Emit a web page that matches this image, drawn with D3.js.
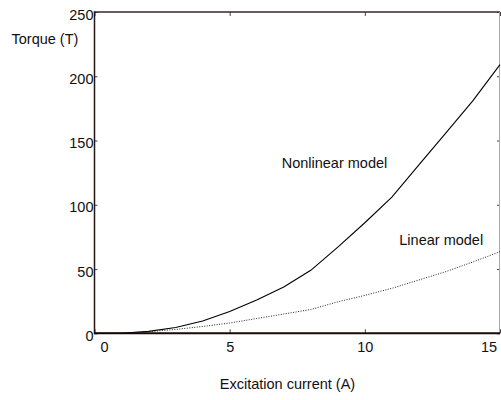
<!DOCTYPE html>
<html><head><meta charset="utf-8">
<script src="https://cdn.jsdelivr.net/npm/d3@7"></script>
<style>
html,body{margin:0;padding:0;background:#fff;}
svg{display:block;font-family:"Liberation Sans",Arial,sans-serif;}
</style></head>
<body><svg id="c" width="501" height="400"></svg>
<script>
const current = [0,1,2,3,4,5,6,7,8,9,10,11,12,13,14,15];
const nonlinearTorque = [0,0,1.5,4.5,9.5,17,26,36,49,67,86,106,131,156,181,209];
const linearTorque = [0,0.2,1.2,3,5.3,8,11.5,15,18.5,24.5,29.5,35,41.5,48,55.5,63.5];
const xTicks = [0,5,10,15];
const yTicks = [0,50,100,150,200,250];
const xTitle = "Excitation current (A)";
const yTitle = "Torque (T)";
const nonlinearLabel = "Nonlinear model";
const linearLabel = "Linear model";

const svg = d3.select("#c");
const L = 94.5, T = 12, R = 500, B = 333.3;
const x = d3.scaleLinear().domain([0,15]).range([L,R]);
const y = d3.scaleLinear().domain([0,250]).range([B,T]);
const fs = "14.5px";

// axes
const gx = svg.append("g").attr("transform",`translate(0,${B})`)
  .call(d3.axisBottom(x).tickValues(xTicks).tickSizeInner(-4).tickSizeOuter(0).tickPadding(8.5));
const gxt = svg.append("g").attr("transform",`translate(0,${T})`)
  .call(d3.axisTop(x).tickValues(xTicks).tickSizeInner(-4).tickSizeOuter(0).tickFormat(""));
const gy = svg.append("g").attr("transform",`translate(${L},0)`)
  .call(d3.axisLeft(y).tickValues(yTicks).tickSizeInner(-3).tickSizeOuter(0).tickPadding(1));
const gyr = svg.append("g").attr("transform",`translate(${R},0)`)
  .call(d3.axisRight(y).tickValues(yTicks).tickSizeInner(-3).tickSizeOuter(0).tickFormat(""));

[gx,gxt,gy,gyr].forEach(g=>{
  g.select(".domain").remove();
  g.selectAll(".tick line").attr("stroke","#444");
  g.selectAll("text").attr("fill","#111").style("font-size",fs).style("font-family","Liberation Sans, Arial, sans-serif");
});
gy.selectAll(".tick text").attr("y",2.5);
gx.selectAll(".tick text").attr("dx",(d)=> d===0 ? 9.5 : (d===15 ? -11.5 : 0));

// frame
svg.append("line").attr("x1",L).attr("x2",R).attr("y1",T).attr("y2",T).attr("stroke","#3a2424").attr("stroke-width",1.5);
svg.append("line").attr("x1",L).attr("x2",L).attr("y1",T-0.7).attr("y2",B+1).attr("stroke","#2a1414").attr("stroke-width",1.5);
svg.append("line").attr("x1",R-0.5).attr("x2",R-0.5).attr("y1",T).attr("y2",B).attr("stroke","#aaa").attr("stroke-width",1);
svg.append("line").attr("x1",L).attr("x2",R).attr("y1",B).attr("y2",B).attr("stroke","#1a0808").attr("stroke-width",2);

// curves
const line = d3.line().x((d,i)=>x(current[i])).y(d=>y(d));
svg.append("path").datum(nonlinearTorque).attr("d",line)
  .attr("fill","none").attr("stroke","#000").attr("stroke-width",1.1);
svg.append("path").datum(linearTorque).attr("d",line)
  .attr("fill","none").attr("stroke","#222").attr("stroke-width",1).attr("stroke-dasharray","1,1.5");

// text
svg.append("text").attr("x",11.5).attr("y",44.3).style("font-size",fs).attr("fill","#111").text(yTitle);
svg.append("text").attr("x",287.5).attr("y",389).attr("text-anchor","middle").style("font-size",fs).attr("fill","#111").text(xTitle);
svg.append("text").attr("x",281.7).attr("y",168.3).style("font-size",fs).attr("fill","#111").text(nonlinearLabel);
svg.append("text").attr("x",399.3).attr("y",244.5).style("font-size",fs).attr("fill","#111").text(linearLabel);
</script></body></html>
